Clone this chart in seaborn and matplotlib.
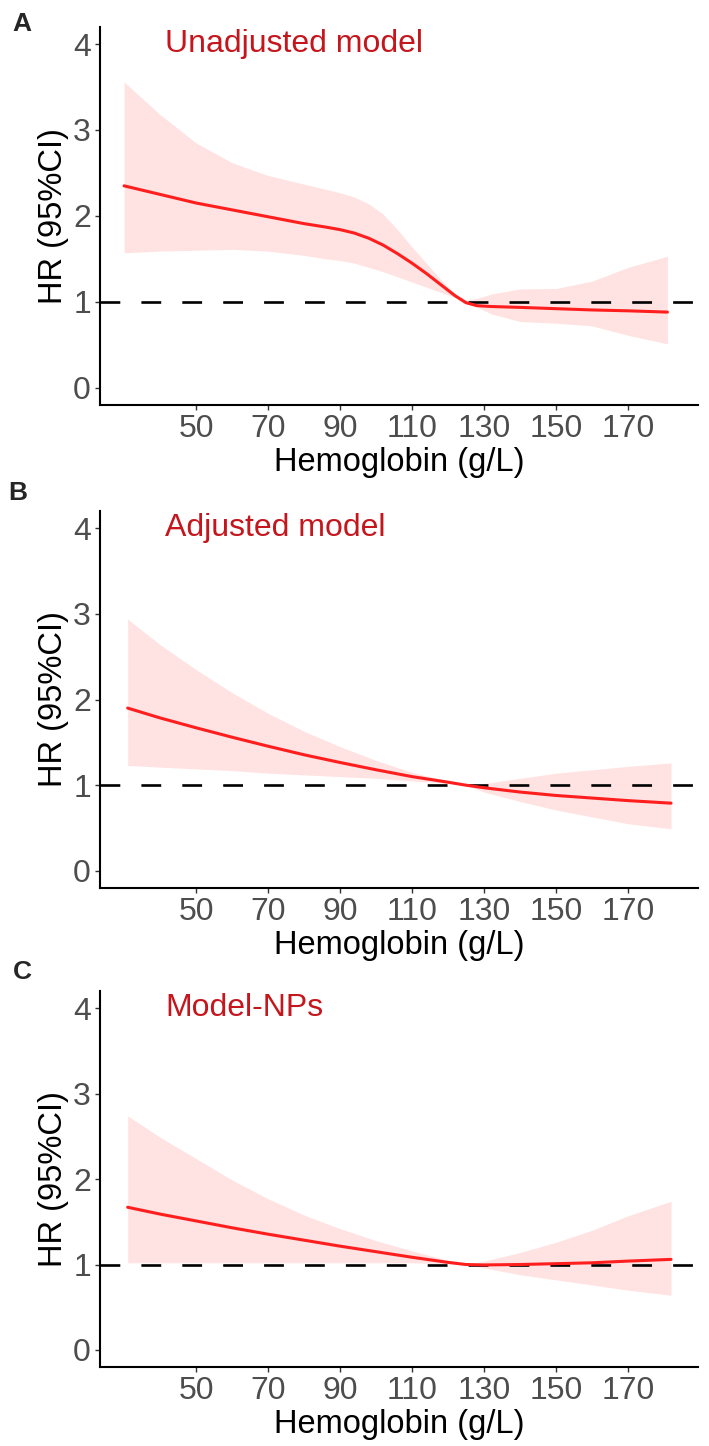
import numpy as np
import pandas as pd
import matplotlib
matplotlib.use("Agg")
import matplotlib.pyplot as plt
import seaborn as sns

# ====== data (HR with 95% CI vs hemoglobin) ======
# Panel A - unadjusted model
hb_a = [30, 40, 50, 60, 70, 80, 86, 90, 94, 98, 102, 106, 110, 114, 118, 122, 125, 128, 132, 140, 150, 160,
        170, 181]
hr_a = [2.35, 2.25, 2.15, 2.07, 1.99, 1.91, 1.87, 1.84, 1.80, 1.74, 1.66, 1.56, 1.45, 1.33, 1.20, 1.07, 0.99,
        0.955, 0.945, 0.935, 0.92, 0.905, 0.895, 0.88]
hi_a = [3.56, 3.18, 2.85, 2.62, 2.47, 2.37, 2.31, 2.27, 2.22, 2.14, 2.02, 1.84, 1.64, 1.45, 1.26, 1.09, 1.02,
        1.04, 1.09, 1.15, 1.155, 1.24, 1.40, 1.53]
lo_a = [1.57, 1.59, 1.60, 1.61, 1.59, 1.54, 1.50, 1.48, 1.45, 1.40, 1.35, 1.29, 1.23, 1.17, 1.11, 1.05, 1.00,
        0.94, 0.86, 0.77, 0.75, 0.72, 0.61, 0.51]

# Panel B - adjusted model
hb_b = [31, 40, 50, 60, 70, 80, 90, 100, 110, 120, 125, 130, 140, 150, 160, 170, 182]
hr_b = [1.90, 1.785, 1.67, 1.56, 1.455, 1.355, 1.265, 1.18, 1.10, 1.035, 1.00, 0.97, 0.92, 0.88, 0.85, 0.82, 0.79]
hi_b = [2.94, 2.64, 2.35, 2.08, 1.84, 1.63, 1.45, 1.29, 1.15, 1.05, 1.00, 1.02, 1.08, 1.14, 1.18, 1.22, 1.26]
lo_b = [1.23, 1.21, 1.19, 1.17, 1.14, 1.12, 1.10, 1.08, 1.05, 1.02, 1.00, 0.92, 0.81, 0.71, 0.63, 0.55, 0.49]

# Panel C - Model-NPs
hb_c = [31, 40, 50, 60, 70, 80, 90, 100, 110, 120, 125, 130, 140, 150, 160, 170, 182]
hr_c = [1.67, 1.59, 1.51, 1.43, 1.355, 1.285, 1.215, 1.15, 1.085, 1.025, 1.00, 0.995, 1.00, 1.01, 1.02, 1.04, 1.06]
hi_c = [2.74, 2.49, 2.24, 1.99, 1.77, 1.58, 1.42, 1.28, 1.16, 1.05, 1.00, 1.04, 1.14, 1.26, 1.40, 1.57, 1.74]
lo_c = [1.02, 1.02, 1.02, 1.02, 1.02, 1.02, 1.02, 1.02, 1.02, 1.01, 1.00, 0.96, 0.88, 0.82, 0.76, 0.70, 0.64]

titles = ["Unadjusted model", "Adjusted model", "Model-NPs"]
tags = ["A", "B", "C"]
x_ticks = [50, 70, 90, 110, 130, 150, 170]
y_ticks = [0, 1, 2, 3, 4]
# =====================================================================

panels = [
    pd.DataFrame({"hb": hb_a, "hr": hr_a, "lo": lo_a, "hi": hi_a}),
    pd.DataFrame({"hb": hb_b, "hr": hr_b, "lo": lo_b, "hi": hi_b}),
    pd.DataFrame({"hb": hb_c, "hr": hr_c, "lo": lo_c, "hi": hi_c}),
]

sns.set_theme(style="ticks")
plt.rcParams['font.family'] = ['Liberation Sans', 'DejaVu Sans']

fig = plt.figure(figsize=(7.09, 14.46), dpi=100)

# axes boxes in figure fractions (left, bottom, width, height)
boxes = [
    [0.141, 0.720, 0.843, 0.2614],
    [0.141, 0.3859, 0.843, 0.2607],
    [0.141, 0.0546, 0.843, 0.2600],
]
tag_pos = [(22, 24), (18, 493), (22, 972)]  # pixel positions of A/B/C

for df, box, title, tag, tp in zip(panels, boxes, titles, tags, tag_pos):
    ax = fig.add_axes(box)
    ax.fill_between(df["hb"], df["lo"], df["hi"], color="red", alpha=0.11, linewidth=0, zorder=1)
    ax.axhline(1, color="black", lw=1.9, dashes=(7.5, 8), zorder=2)
    sns.lineplot(data=df, x="hb", y="hr", ax=ax, color="#FF1E1E", lw=2.2, zorder=3)

    ax.set_xlim(23.3, 189.4)
    ax.set_ylim(-0.2, 4.2)
    ax.set_xticks(x_ticks)
    ax.set_yticks(y_ticks)

    sns.despine(ax=ax)
    for s in ["left", "bottom"]:
        ax.spines[s].set_linewidth(1.5)
        ax.spines[s].set_color("black")
    ax.tick_params(axis="both", length=3.5, width=1, color="#333333",
                   labelsize=23, labelcolor="#4D4D4D", pad=3)

    ax.set_xlabel("Hemoglobin (g/L)", fontsize=23.5, color="black", labelpad=2)
    ax.set_ylabel("HR (95%CI)", fontsize=23.5, color="black", labelpad=3)

    ax.text(41.5, 4.0, title, color="#C4161C", fontsize=23, ha="left", va="center")
    fig.text(tp[0] / 709, 1 - tp[1] / 1446, tag, fontsize=19, fontweight="bold",
             ha="center", va="center")

fig.savefig("out.png", dpi=100)
